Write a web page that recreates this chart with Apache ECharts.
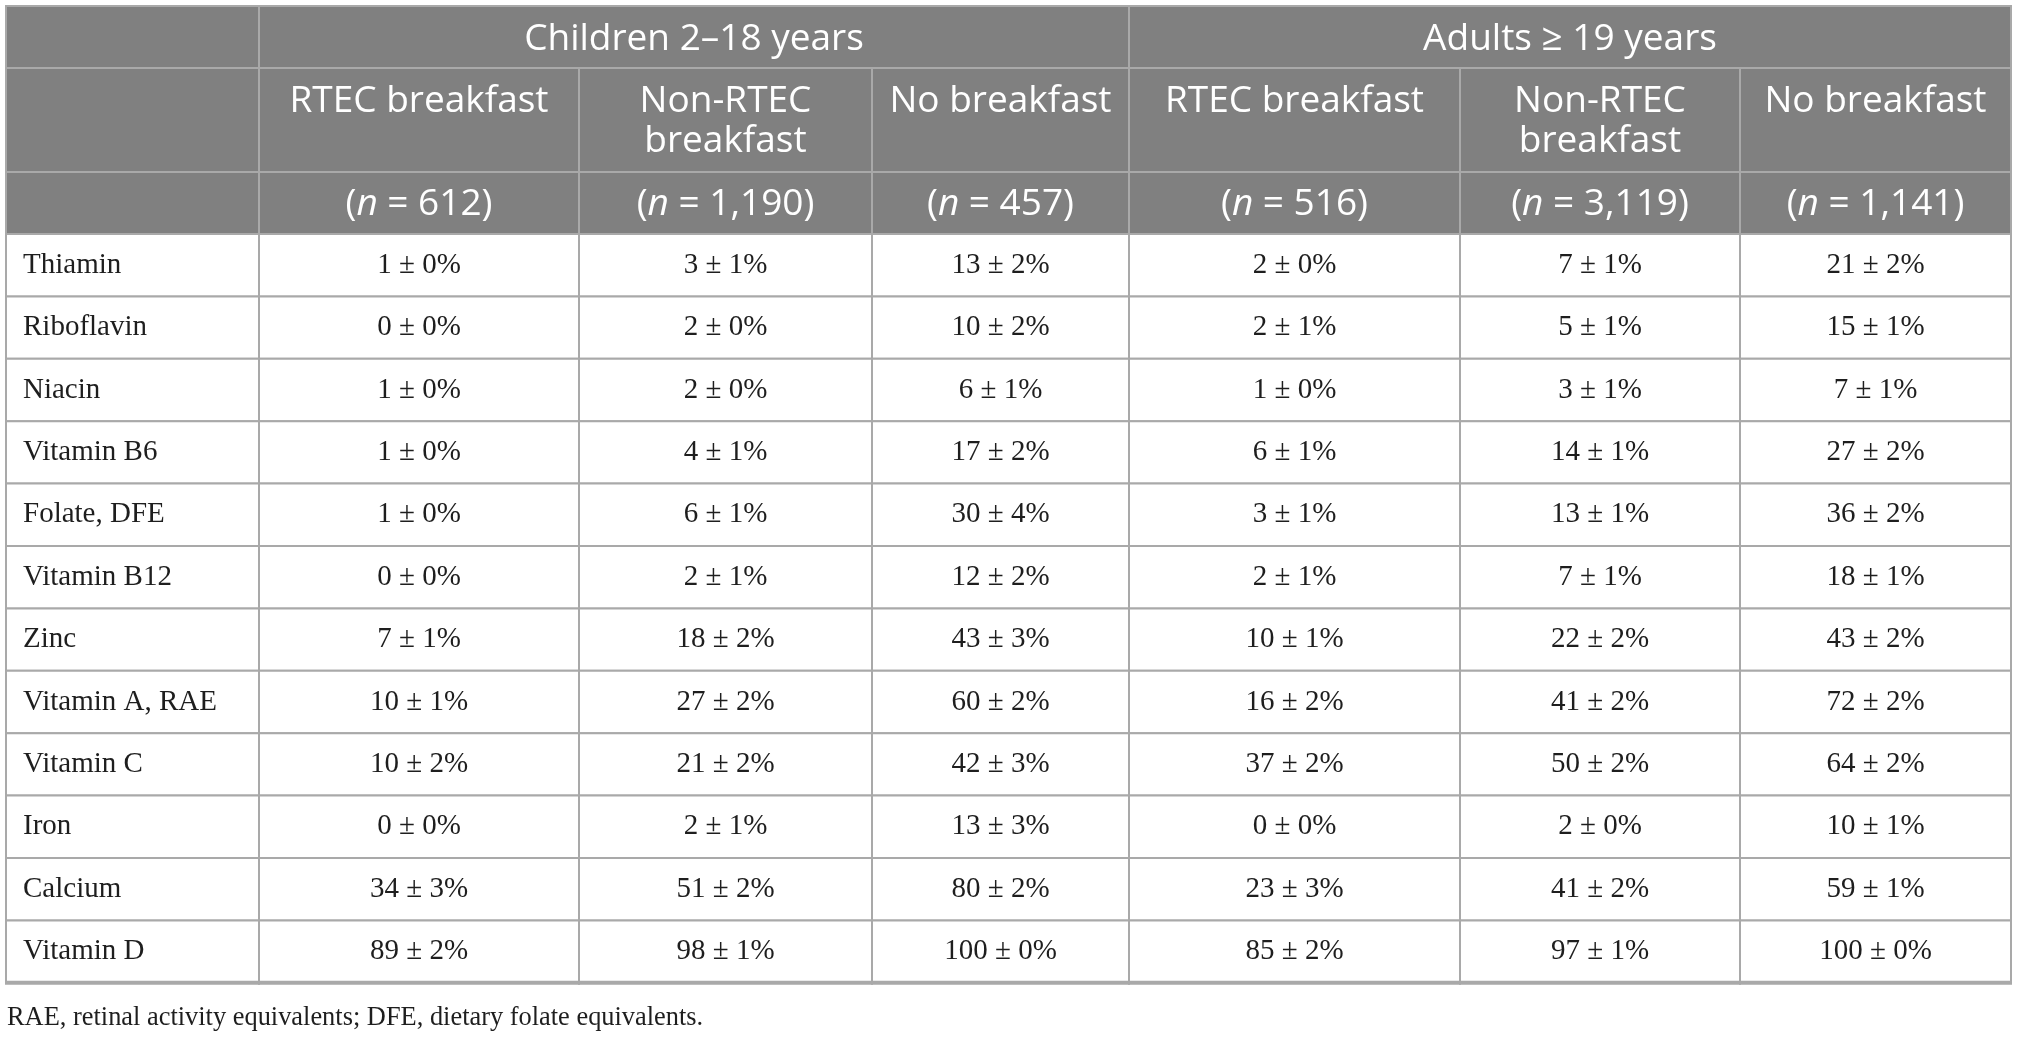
<!DOCTYPE html>
<html><head><meta charset="utf-8">
<script src="https://cdn.jsdelivr.net/npm/echarts@6/dist/echarts.min.js"></script>
<style>html,body{margin:0;padding:0;background:#fff}#c{width:2017px;height:1038px}</style>
</head><body><div id="c"></div>
<script>
// ---------- data ----------
const groups = ['Children 2–18 years', 'Adults ≥ 19 years'];
const breakfastTypes = ['RTEC breakfast', 'Non-RTEC\nbreakfast', 'No breakfast'];
const sampleSizes = ['612', '1,190', '457', '516', '3,119', '1,141'];
const nutrients = ['Thiamin', 'Riboflavin', 'Niacin', 'Vitamin B6', 'Folate, DFE', 'Vitamin B12',
  'Zinc', 'Vitamin A, RAE', 'Vitamin C', 'Iron', 'Calcium', 'Vitamin D'];

const childRtecMean    = [1, 0, 1, 1, 1, 0, 7, 10, 10, 0, 34, 89];
const childRtecSe      = [0, 0, 0, 0, 0, 0, 1, 1, 2, 0, 3, 2];
const childNonRtecMean = [3, 2, 2, 4, 6, 2, 18, 27, 21, 2, 51, 98];
const childNonRtecSe   = [1, 0, 0, 1, 1, 1, 2, 2, 2, 1, 2, 1];
const childNoMean      = [13, 10, 6, 17, 30, 12, 43, 60, 42, 13, 80, 100];
const childNoSe        = [2, 2, 1, 2, 4, 2, 3, 2, 3, 3, 2, 0];
const adultRtecMean    = [2, 2, 1, 6, 3, 2, 10, 16, 37, 0, 23, 85];
const adultRtecSe      = [0, 1, 0, 1, 1, 1, 1, 2, 2, 0, 3, 2];
const adultNonRtecMean = [7, 5, 3, 14, 13, 7, 22, 41, 50, 2, 41, 97];
const adultNonRtecSe   = [1, 1, 1, 1, 1, 1, 2, 2, 2, 0, 2, 1];
const adultNoMean      = [21, 15, 7, 27, 36, 18, 43, 72, 64, 10, 59, 100];
const adultNoSe        = [2, 1, 1, 2, 2, 1, 2, 2, 2, 1, 1, 0];

const footnote = 'RAE, retinal activity equivalents; DFE, dietary folate equivalents.';

// ---------- layout ----------
const colEdges = [0, 253, 573, 866, 1123, 1454, 1734, 2005];
const headerEdges = [0, 62, 166, 228];
const rowH = 62.4;
const TOTAL_W = colEdges[colEdges.length - 1];
const TOTAL_H = headerEdges[3] + rowH * nutrients.length;

const HEADER_FILL = '#808080';
const LINE = '#a9a9a9';
const SANS = '"Open Sans", "Noto Sans", sans-serif';
const SERIF = '"Liberation Serif", "Times New Roman", serif';

const valueCols = [
  [childRtecMean, childRtecSe], [childNonRtecMean, childNonRtecSe], [childNoMean, childNoSe],
  [adultRtecMean, adultRtecSe], [adultNonRtecMean, adultNonRtecSe], [adultNoMean, adultNoSe]
];

const cells = [];
function addCell(c0, c1, y0, y1, text, opts) {
  cells.push(Object.assign({ value: [colEdges[c0], colEdges[c1], y0, y1], text: text }, opts || {}));
}
// header row 0
addCell(0, 1, headerEdges[0], headerEdges[1], '', { header: true });
addCell(1, 4, headerEdges[0], headerEdges[1], groups[0], { header: true, dy: 2 });
addCell(4, 7, headerEdges[0], headerEdges[1], groups[1], { header: true, dy: 2 });
// header row 1
addCell(0, 1, headerEdges[1], headerEdges[2], '', { header: true });
for (let i = 0; i < 6; i++) addCell(i + 1, i + 2, headerEdges[1], headerEdges[2], breakfastTypes[i % 3], { header: true, valign: 'top' });
// header row 2
addCell(0, 1, headerEdges[2], headerEdges[3], '', { header: true });
for (let i = 0; i < 6; i++) addCell(i + 1, i + 2, headerEdges[2], headerEdges[3], '({i|n} = ' + sampleSizes[i] + ')', { header: true, dy: 1 });
// body
nutrients.forEach(function (name, r) {
  const y0 = headerEdges[3] + r * rowH, y1 = y0 + rowH;
  const last = r === nutrients.length - 1;
  addCell(0, 1, y0, y1, name, { align: 'left', last: last });
  valueCols.forEach(function (col, i) {
    addCell(i + 1, i + 2, y0, y1, col[0][r] + ' ± ' + col[1][r] + '%', { last: last });
  });
});

function renderItem(params, api) {
  const c = cells[params.dataIndex];
  const a = api.coord([api.value(0), api.value(2)]);
  const b = api.coord([api.value(1), api.value(3)]);
  const x = a[0], y = a[1], w = b[0] - a[0], h = b[1] - a[1];
  const children = [{
    type: 'rect', shape: { x: x, y: y, width: w, height: h },
    style: { fill: c.header ? HEADER_FILL : '#ffffff', stroke: LINE, lineWidth: 2 }
  }];
  if (c.text) {
    let tx = x + w / 2, ty = y + h / 2 + (c.dy || 0), align = 'center', va = 'middle';
    if (c.align === 'left') { tx = x + 17; align = 'left'; }
    if (c.valign === 'top') { ty = y + 13; va = 'top'; }
    const st = c.header
      ? { fontFamily: SANS, fontSize: 37, fill: '#ffffff', lineHeight: 40,
          rich: { i: { fontFamily: SANS, fontSize: 37, fontStyle: 'italic', fill: '#ffffff', color: '#ffffff' } } }
      : { fontFamily: SERIF, fontSize: 29, fill: '#1e1e1e' };
    children.push({ type: 'text', style: Object.assign({ text: c.text, x: tx, y: ty, align: align, verticalAlign: va }, st) });
  }
  if (c.last) {
    children.push({ type: 'line', shape: { x1: x - 1, y1: y + h, x2: x + w + 1, y2: y + h }, style: { stroke: LINE, lineWidth: 4 } });
  }
  return { type: 'group', children: children };
}

const chart = echarts.init(document.getElementById('c'));
chart.setOption({
  animation: false,
  title: {
    text: footnote, left: 7, top: 1003, padding: 0,
    textStyle: { fontFamily: SERIF, fontSize: 26.4, fontWeight: 'normal', color: '#1e1e1e', lineHeight: 30 }
  },
  grid: { left: 6, right: 6, top: 6, bottom: 1038 - 6 - TOTAL_H },
  xAxis: { type: 'value', min: 0, max: TOTAL_W, show: false },
  yAxis: { type: 'value', min: 0, max: TOTAL_H, inverse: true, show: false },
  series: [{
    type: 'custom', coordinateSystem: 'cartesian2d', clip: false,
    renderItem: renderItem,
    data: cells.map(function (c) { return c.value; })
  }]
});
</script>
</body></html>
